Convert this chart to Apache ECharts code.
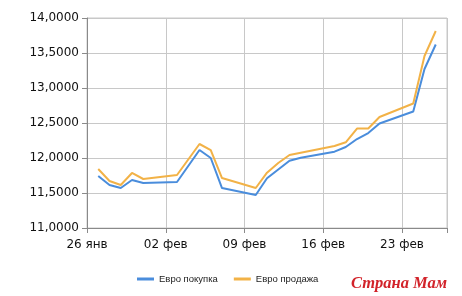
<!DOCTYPE html>
<html><head><meta charset="utf-8">
<script src="https://cdn.jsdelivr.net/npm/echarts@6/dist/echarts.min.js"></script>
<style>html,body{margin:0;padding:0;background:#fff}#c{width:462px;height:296px}</style>
</head><body><div id="c"></div>
<script>
const dates = ['2014-01-27','2014-01-28','2014-01-29','2014-01-30','2014-01-31','2014-02-03','2014-02-05','2014-02-06','2014-02-07','2014-02-10','2014-02-11','2014-02-12','2014-02-13','2014-02-14','2014-02-17','2014-02-18','2014-02-19','2014-02-20','2014-02-21','2014-02-24','2014-02-25','2014-02-26'];
const buyValues  = [11.743,11.614,11.571,11.686,11.643,11.657,12.114,12.000,11.571,11.471,11.710,11.836,11.961,12.004,12.090,12.157,12.271,12.357,12.493,12.664,13.271,13.621];
const sellValues = [11.843,11.671,11.614,11.786,11.700,11.757,12.200,12.114,11.714,11.571,11.790,11.929,12.043,12.076,12.171,12.224,12.421,12.421,12.586,12.779,13.457,13.814];
const tickLabels = ['26 янв','02 фев','09 фев','16 фев','23 фев'];
const seriesNames = ['Евро покупка','Евро продажа'];
const startDate = '2014-01-26';
const endDate = '2014-02-27';

const dayOf = d => (Date.parse(d) - Date.parse(startDate)) / 86400000;
const buyData = dates.map((d,i) => [dayOf(d), buyValues[i]]);
const sellData = dates.map((d,i) => [dayOf(d), sellValues[i]]);

const chart = echarts.init(document.getElementById('c'));
const font = 'DejaVu Sans';
chart.setOption({
  animation: false,
  backgroundColor: '#fff',
  grid: {left: 87, right: 15, top: 18, bottom: 68, show: true, borderColor: '#c8c8c8', borderWidth: 1},
  xAxis: {
    type: 'value', min: 0, max: dayOf(endDate), interval: 7,
    axisLine: {show: true, lineStyle: {color: '#8a8a8a', width: 1}},
    axisTick: {show: true, length: 5, lineStyle: {color: '#8a8a8a'}},
    splitLine: {show: true, lineStyle: {color: '#c8c8c8', width: 1}},
    axisLabel: {
      color: '#111', fontFamily: font, fontSize: 12, margin: 11,
      formatter: v => (v % 7 === 0 && tickLabels[v/7] !== undefined) ? tickLabels[v/7] : ''
    }
  },
  yAxis: {
    type: 'value', min: 11, max: 14, interval: 0.5,
    axisLine: {show: true, lineStyle: {color: '#8a8a8a', width: 1}},
    axisTick: {show: true, length: 5, lineStyle: {color: '#8a8a8a'}},
    splitLine: {show: true, lineStyle: {color: '#c8c8c8', width: 1}},
    axisLabel: {
      color: '#111', fontFamily: font, fontSize: 12, margin: 8,
      formatter: v => v.toFixed(4).replace('.', ',')
    }
  },
  legend: {
    left: 132, top: 269, itemWidth: 17, itemHeight: 3, itemGap: 16, icon: 'rect',
    textStyle: {fontFamily: 'Liberation Sans', fontSize: 9.5, color: '#222'},
    data: seriesNames
  },
  series: [
    {name: seriesNames[0], type: 'line', data: buyData, showSymbol: false, color: '#4a8ddc', lineStyle: {width: 2, color: '#4a8ddc'}},
    {name: seriesNames[1], type: 'line', data: sellData, showSymbol: false, color: '#f2b247', lineStyle: {width: 2, color: '#f2b247'}}
  ],
  graphic: [{
    type: 'text', left: 350, top: 274,
    style: {text: 'Страна Мам', font: 'italic bold 16.5px "Liberation Serif"', fill: '#d2232a', stroke: '#fff', lineWidth: 2}
  }]
});
</script></body></html>
